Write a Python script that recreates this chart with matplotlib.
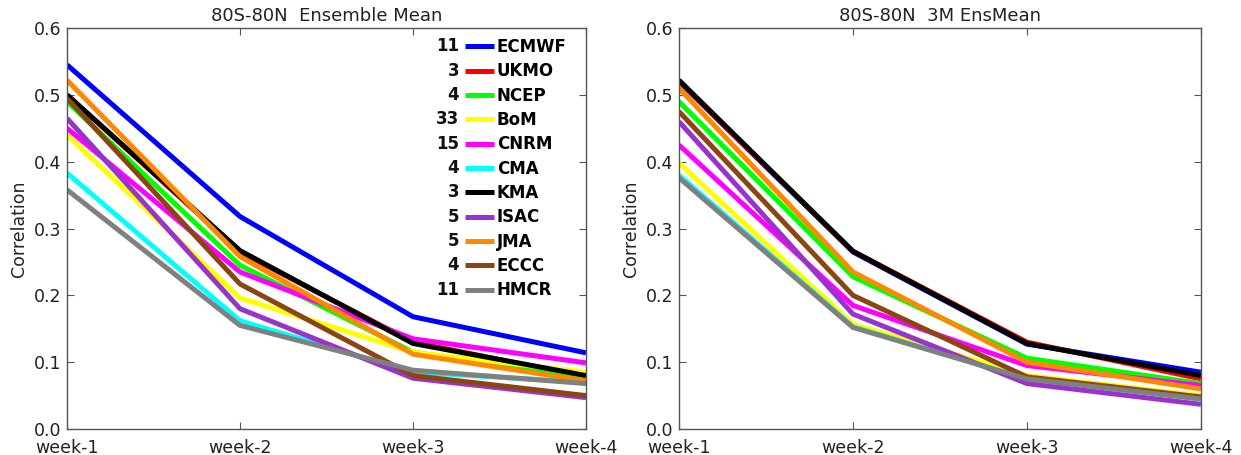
import matplotlib
matplotlib.use('Agg')
import matplotlib.pyplot as plt


weeks = ['week-1', 'week-2', 'week-3', 'week-4']
centres = ['ECMWF', 'UKMO', 'NCEP', 'BoM', 'CNRM', 'CMA', 'KMA', 'ISAC', 'JMA', 'ECCC', 'HMCR']
members = ['11', '3', '4', '33', '15', '4', '3', '5', '5', '4', '11']
colors = ['#0000ff', '#ff0000', '#00ff00', '#ffff00', '#ff00ff', '#00ffff',
          '#000000', '#9933cc', '#ff8800', '#8b4513', '#808080']

# left panel: ensemble mean per centre
ens_mean = {
    'ECMWF': [0.545, 0.318, 0.168, 0.114],
    'UKMO': [0.500, 0.265, 0.130, 0.078],
    'NCEP': [0.490, 0.245, 0.115, 0.075],
    'BoM': [0.440, 0.196, 0.115, 0.085],
    'CNRM': [0.450, 0.235, 0.135, 0.099],
    'CMA': [0.383, 0.162, 0.085, 0.070],
    'KMA': [0.500, 0.267, 0.128, 0.080],
    'ISAC': [0.465, 0.180, 0.076, 0.047],
    'JMA': [0.522, 0.258, 0.112, 0.072],
    'ECCC': [0.495, 0.217, 0.080, 0.050],
    'HMCR': [0.358, 0.155, 0.088, 0.068],
}

# right panel: 3-member ensemble mean
ens_3m = {
    'ECMWF': [0.520, 0.265, 0.127, 0.085],
    'UKMO': [0.520, 0.266, 0.130, 0.075],
    'NCEP': [0.490, 0.228, 0.106, 0.068],
    'BoM': [0.398, 0.157, 0.080, 0.050],
    'CNRM': [0.425, 0.185, 0.095, 0.065],
    'CMA': [0.380, 0.153, 0.075, 0.045],
    'KMA': [0.522, 0.266, 0.128, 0.080],
    'ISAC': [0.460, 0.172, 0.068, 0.037],
    'JMA': [0.510, 0.235, 0.100, 0.060],
    'ECCC': [0.475, 0.200, 0.078, 0.048],
    'HMCR': [0.376, 0.152, 0.075, 0.045],
}

titles = ['80S-80N  Ensemble Mean', '80S-80N  3M EnsMean']
y_ticks = [0.0, 0.1, 0.2, 0.3, 0.4, 0.5, 0.6]


def style_axes(ax, title):
    ax.set_xlim(0, len(weeks) - 1)
    ax.set_ylim(0, 0.6)
    ax.set_xticks(range(len(weeks)))
    ax.set_xticklabels(weeks)
    ax.set_yticks(y_ticks)
    ax.set_yticklabels([f'{v:.1f}' for v in y_ticks])
    ax.tick_params(direction='in', top=True, right=True, length=5,
                   width=0.8, colors='#555555', labelcolor='#222222',
                   labelsize=12.5)
    ax.tick_params(axis='x', pad=7)
    ax.tick_params(axis='y', pad=4)
    for spine in ax.spines.values():
        spine.set_color('#555555')
        spine.set_linewidth(1.0)
    ax.set_title(title, fontsize=13, color='#222222', pad=5)
    ax.set_ylabel('Correlation', fontsize=12.5, color='#222222', labelpad=4)


fig = plt.figure(figsize=(12.41, 4.55), dpi=100)
ax_left = fig.add_axes([0.054, 0.0571, 0.4182, 0.8813])
ax_right = fig.add_axes([0.5471, 0.0571, 0.4206, 0.8813])

x = range(len(weeks))
for ax, data, title in [(ax_left, ens_mean, titles[0]), (ax_right, ens_3m, titles[1])]:
    for name, color in zip(centres, colors):
        ax.plot(x, data[name], color=color, linewidth=3.6, label=name,
                solid_joinstyle='round', solid_capstyle='butt')
    style_axes(ax, title)

leg = ax_left.legend(loc='upper right', bbox_to_anchor=(0.963, 0.975),
                     frameon=False, borderpad=0, borderaxespad=0,
                     handlelength=1.7, handletextpad=0.2, labelspacing=0.38,
                     prop={'weight': 'bold', 'size': 12})

# ensemble sizes written left of each legend line
fig.canvas.draw()
renderer = fig.canvas.get_renderer()
inv = fig.transFigure.inverted()
for handle, count in zip(leg.get_lines(), members):
    bb = handle.get_window_extent(renderer)
    fx, fy = inv.transform((bb.x0 - 6, (bb.y0 + bb.y1) / 2))
    fig.text(fx, fy, count, ha='right', va='center', fontsize=12,
             fontweight='bold', color='#111111')

fig.savefig('out.png', dpi=100)
